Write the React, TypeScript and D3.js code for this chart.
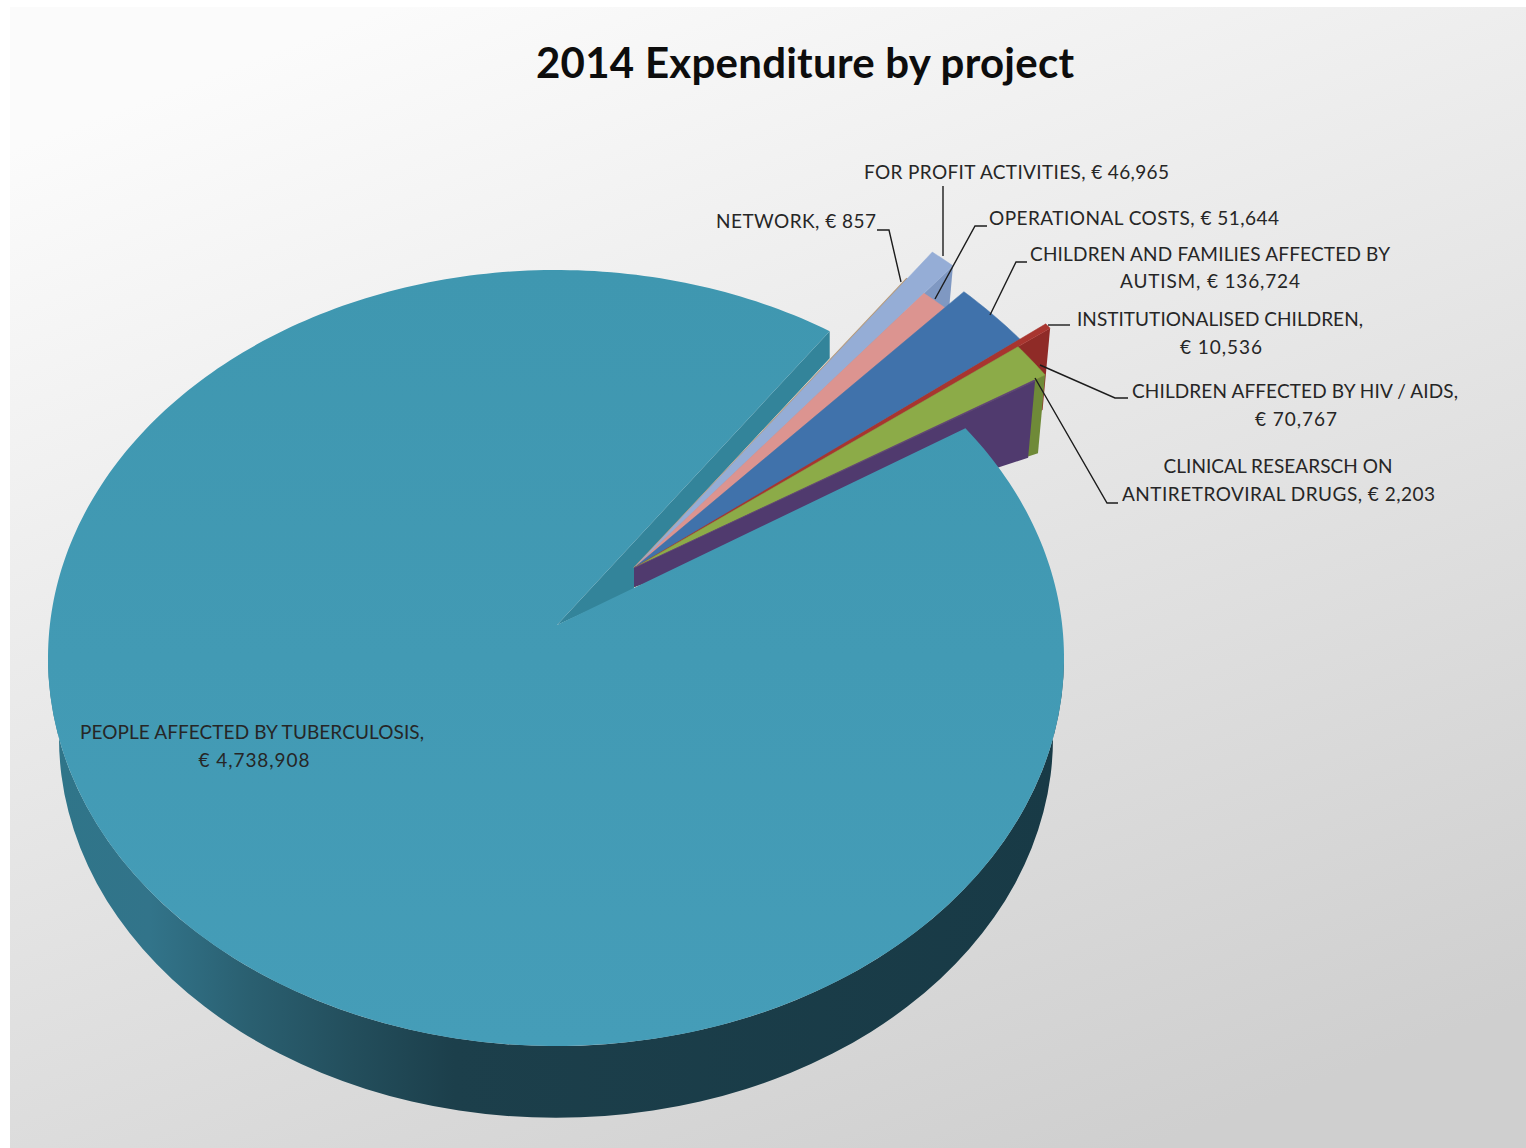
import React from "react";
import * as d3 from "d3";

const categories = [
  "NETWORK",
  "FOR PROFIT ACTIVITIES",
  "OPERATIONAL COSTS",
  "CHILDREN AND FAMILIES AFFECTED BY AUTISM",
  "INSTITUTIONALISED CHILDREN",
  "CHILDREN AFFECTED BY HIV / AIDS",
  "CLINICAL RESEARSCH ON ANTIRETROVIRAL DRUGS",
  "PEOPLE AFFECTED BY TUBERCULOSIS",
];
const values = [857, 46965, 51644, 136724, 10536, 70767, 2203, 4738908];
const topColors = ["#b89a78", "#95add6", "#dc9490", "#4072ab", "#a8352f", "#8cab48", "#5e417c", "#4399b3"];
const wallColors = ["#a88a66", "#7f98c2", "#b87c7a", "#355f90", "#8f2b27", "#6f8a38", "#503a6e", "#33849a"];
const pulls = [85, 122, 82, 107, 137, 100, 88];

const labelLines: [string, number, number, number][] = [
  ["FOR PROFIT ACTIVITIES, € 46,965", 1016.5, 179, 305],
  ["NETWORK, € 857", 796, 228, 160],
  ["OPERATIONAL COSTS, € 51,644", 1134, 225, 290],
  ["CHILDREN AND FAMILIES AFFECTED BY", 1210, 261, 360],
  ["AUTISM, € 136,724", 1210, 288, 180],
  ["INSTITUTIONALISED CHILDREN,", 1220, 326, 286],
  ["€ 10,536", 1221, 354, 82],
  ["CHILDREN AFFECTED BY HIV / AIDS,", 1295, 398, 326],
  ["€ 70,767", 1296, 426, 82],
  ["CLINICAL RESEARSCH ON", 1278, 473, 229],
  ["ANTIRETROVIRAL DRUGS, € 2,203", 1278.5, 501, 313],
  ["PEOPLE AFFECTED BY TUBERCULOSIS,", 252, 739, 344],
  ["€ 4,738,908", 254, 767, 111],
];
const leaders: [number, number][][] = [
  [[877, 230], [889, 230], [901, 282]],
  [[943, 186], [943, 256]],
  [[987, 226], [975, 226], [935, 299]],
  [[1027, 262], [1016, 262], [990, 315]],
  [[1070, 325], [1048, 325]],
  [[1128, 398], [1115, 398], [1040, 365]],
  [[1118, 503], [1107, 503], [1035, 378]],
];

const rad = Math.PI / 180;
const C = { x: 556, y: 658, rx: 508, ry: 388 };
const bigApex = { x: 557, y: 625 };
const smallApex = { x: 634, y: 568 };

const pie = d3.pie<number>().sort(null).value((d) => d)(values);
const smallEnd = pie[6].endAngle;
const ellipseParam = d3
  .scaleLinear()
  .domain([smallEnd, 2 * Math.PI])
  .range([53.7 * rad, 392.6 * rad]);
const bearing = d3
  .scaleLinear()
  .domain([0, smallEnd])
  .range([43.3 * rad, 65 * rad]);

const onEllipse = (phi: number): [number, number] => [
  C.x + C.rx * Math.sin(phi),
  C.y - C.ry * Math.cos(phi),
];

// distance from the small apex along a bearing up to the rim of the top ellipse
function rimDistance(b: number) {
  const ux = Math.sin(b) / C.rx;
  const uy = -Math.cos(b) / C.ry;
  const px = (smallApex.x - C.x) / C.rx;
  const py = (smallApex.y - C.y) / C.ry;
  const A = ux * ux + uy * uy;
  const B = 2 * (px * ux + py * uy);
  const D = px * px + py * py - 1;
  return (-B + Math.sqrt(B * B - 4 * A * D)) / (2 * A);
}

const polar = (b: number, pull: number): [number, number] => {
  const r = rimDistance(b) + pull;
  return [smallApex.x + r * Math.sin(b), smallApex.y - r * Math.cos(b)];
};

const dropAt = (p: [number, number]): [number, number] => {
  const r = Math.hypot(p[0] - smallApex.x, p[1] - smallApex.y);
  return [p[0] - (7 * r) / 444, p[1] + 19 + (58 * r) / 444];
};

const line = d3.line<[number, number]>();

function slicePaths(i: number) {
  const a0 = bearing(pie[i].startAngle);
  const a1 = bearing(pie[i].endAngle);
  const apex: [number, number] = [smallApex.x, smallApex.y];
  const arc = d3.range(0, 9).map((k) => polar(a0 + ((a1 - a0) * k) / 8, pulls[i]));
  const top = line([apex, ...arc])! + "Z";
  const end = arc[arc.length - 1];
  const wall = line([apex, end, dropAt(end), dropAt(apex)])! + "Z";
  return { top, wall };
}

const bigAngles = d3.range(0, 361).map((k) => pie[7].startAngle + ((pie[7].endAngle - pie[7].startAngle) * k) / 360);
const bigArc = bigAngles.map((a) => onEllipse(ellipseParam(a)));
const bigTop = line([[bigApex.x, bigApex.y], ...bigArc])! + "Z";

const openEnd = bigArc[bigArc.length - 1];
const wedge =
  line([
    [bigApex.x, bigApex.y],
    openEnd,
    [openEnd[0], openEnd[1] + 27],
    [smallApex.x, smallApex.y],
    [smallApex.x, smallApex.y + 22],
  ])! + "Z";

const ring = `M59,738 A497,380 0 0 0 1053,738 L1064,658 A508,388 0 0 1 48,658 Z`;

export default function App() {
  return (
    <svg
      width={1526}
      height={1148}
      style={{ position: "absolute", left: 0, top: 0 }}
      fontFamily="Lato, sans-serif"
    >
      <defs>
        <linearGradient id="bg" x1="0.25" y1="0" x2="0.75" y2="1">
          <stop offset="0" stopColor="#fbfbfb" />
          <stop offset="1" stopColor="#cfcfcf" />
        </linearGradient>
        <linearGradient id="wallGrad" x1="48" x2="1064" y1="0" y2="0" gradientUnits="userSpaceOnUse">
          <stop offset="0" stopColor="#2f7589" />
          <stop offset="0.1" stopColor="#32748a" />
          <stop offset="0.2" stopColor="#2a5f70" />
          <stop offset="0.3" stopColor="#234e5c" />
          <stop offset="0.4" stopColor="#1c3f4b" />
          <stop offset="1" stopColor="#183a46" />
        </linearGradient>
        <linearGradient id="topGrad" x1="0" x2="0" y1="0" y2="1">
          <stop offset="0" stopColor="#3f97b0" />
          <stop offset="1" stopColor="#459db8" />
        </linearGradient>
      </defs>
      <rect width={1526} height={1148} fill="#fff" />
      <rect x={10} y={7} width={1516} height={1141} fill="url(#bg)" />
      <path d={ring} fill="url(#wallGrad)" />
      <path d={wedge} fill={wallColors[7]} />
      {pie.slice(0, 7).map((_, i) => {
        const p = slicePaths(i);
        return (
          <g key={categories[i]}>
            <path d={p.wall} fill={wallColors[i]} />
            <path d={p.top} fill={topColors[i]} stroke={topColors[i]} strokeWidth={i === 0 ? 1.5 : 0.5} />
          </g>
        );
      })}
      <path d={bigTop} fill="url(#topGrad)" />
      {leaders.map((pts, i) => (
        <path key={i} d={line(pts)!} fill="none" stroke="#1c1c1c" strokeWidth={1.4} />
      ))}
      {labelLines.map(([t, x, y, w]) => (
        <text key={t} x={x} y={y} textAnchor="middle" fontSize={19} fill="#262626" textLength={w} lengthAdjust="spacing">
          {t}
        </text>
      ))}
      <text x={805} y={78} textAnchor="middle" fontSize={42} fontWeight={700} fill="#0d0d0d" textLength={538} lengthAdjust="spacing">
        2014 Expenditure by project
      </text>
    </svg>
  );
}
